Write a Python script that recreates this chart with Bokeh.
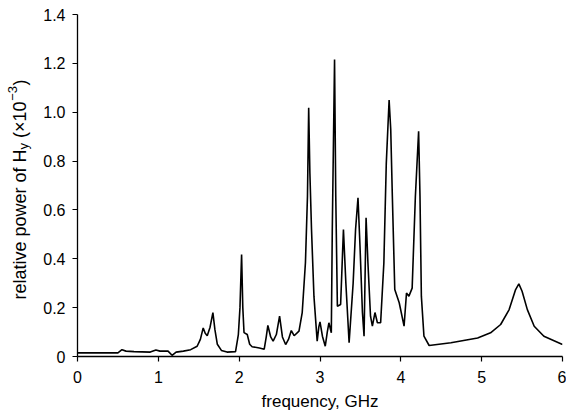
from bokeh.plotting import figure
from bokeh.models import Range1d, FixedTicker
from bokeh.layouts import row
from bokeh.core.properties import value
from bokeh.embed import file_html
from bokeh.resources import INLINE

# ---- data ----
freq = [0.00, 0.50, 0.55, 0.60, 0.70, 0.90, 0.97, 1.02, 1.12, 1.17, 1.22, 1.31, 1.40, 1.48,
        1.52, 1.555, 1.58, 1.605, 1.64, 1.675, 1.70, 1.73, 1.78, 1.85, 1.955, 1.99, 2.01,
        2.03, 2.045, 2.06, 2.10, 2.13, 2.16, 2.25, 2.31, 2.335, 2.355, 2.39, 2.42, 2.46,
        2.50, 2.535, 2.575, 2.61, 2.645, 2.68, 2.74, 2.78, 2.82, 2.845, 2.86, 2.875, 2.895,
        2.925, 2.965, 2.985, 3.00, 3.03, 3.065, 3.09, 3.11, 3.14, 3.152, 3.18, 3.195, 3.215,
        3.255, 3.29, 3.32, 3.36, 3.41, 3.44, 3.47, 3.495, 3.525, 3.545, 3.57, 3.593, 3.625,
        3.648, 3.68, 3.71, 3.75, 3.79, 3.82, 3.855, 3.875, 3.895, 3.925, 3.98, 4.04, 4.07,
        4.10, 4.14, 4.18, 4.22, 4.237, 4.254, 4.286, 4.35, 4.62, 4.95, 5.11, 5.235, 5.34,
        5.42, 5.46, 5.50, 5.565, 5.65, 5.77, 6.00]
power = [0.015, 0.015, 0.028, 0.022, 0.020, 0.018, 0.027, 0.022, 0.022, 0.005, 0.018, 0.022,
         0.028, 0.042, 0.070, 0.117, 0.095, 0.085, 0.120, 0.180, 0.110, 0.050, 0.025, 0.018,
         0.020, 0.090, 0.200, 0.417, 0.200, 0.098, 0.090, 0.050, 0.040, 0.035, 0.030, 0.080,
         0.127, 0.080, 0.063, 0.090, 0.165, 0.080, 0.049, 0.070, 0.106, 0.085, 0.104, 0.180,
         0.385, 0.656, 1.018, 0.750, 0.520, 0.247, 0.063, 0.120, 0.142, 0.083, 0.042, 0.100,
         0.138, 0.097, 0.520, 1.216, 0.656, 0.206, 0.213, 0.520, 0.300, 0.056, 0.300, 0.520,
         0.650, 0.450, 0.180, 0.083, 0.568, 0.383, 0.165, 0.124, 0.180, 0.138, 0.138, 0.383,
         0.790, 1.050, 0.930, 0.656, 0.274, 0.220, 0.124, 0.260, 0.247, 0.280, 0.656, 0.922,
         0.656, 0.247, 0.083, 0.045, 0.056, 0.076, 0.097, 0.131, 0.192, 0.274, 0.297, 0.267,
         0.192, 0.124, 0.083, 0.049]

x_ticks = [0, 1, 2, 3, 4, 5, 6]
x_tick_labels = ["0", "1", "2", "3", "4", "5", "6"]
y_ticks = [0, 0.2, 0.4, 0.6, 0.8, 1.0, 1.2, 1.4]
y_tick_labels = ["0", "0.2", "0.4", "0.6", "0.8", "1.0", "1.2", "1.4"]
x_label = "frequency, GHz"
y_label_parts = ["relative power of H", "y", "(\u00d710", "\u22123", ")"]

FONT = "Liberation Sans"
H = 412
LW = 40                      # width of the strip holding the y-axis title
FW, FH = 485, 342            # plot frame size
BL, BR, BT, BB = 77 - LW, 4, 14, 56

# ---- main chart ----
p = figure(title=None, frame_width=FW, frame_height=FH, output_backend="svg",
           toolbar_location=None, x_range=Range1d(0, 6), y_range=Range1d(0, 1.4),
           min_border_left=BL, min_border_right=BR, min_border_top=BT, min_border_bottom=BB)
p.outline_line_color = None
p.xgrid.visible = False
p.ygrid.visible = False
p.background_fill_color = "white"
p.border_fill_color = "white"

p.line(freq, power, line_color="black", line_width=1.6)

for ax in (p.xaxis[0], p.yaxis[0]):
    ax.axis_line_color = "black"
    ax.axis_line_width = 1.3
    ax.major_tick_line_color = "black"
    ax.major_tick_line_width = 1.2
    ax.major_tick_in = 0
    ax.major_tick_out = 5
    ax.minor_tick_line_color = None
    ax.major_label_text_font = FONT
    ax.major_label_text_font_size = "16px"
    ax.major_label_text_color = "black"
    ax.major_label_standoff = 7

p.xaxis.major_label_standoff = 9
p.xaxis.ticker = FixedTicker(ticks=x_ticks)
p.xaxis.major_label_overrides = {t: s for t, s in zip(x_ticks, x_tick_labels)}
p.yaxis.ticker = FixedTicker(ticks=y_ticks)
p.yaxis.major_label_overrides = {t: s for t, s in zip(y_ticks, y_tick_labels)}

p.xaxis.axis_label = x_label
p.xaxis.axis_label_text_font = FONT
p.xaxis.axis_label_text_font_size = "17px"
p.xaxis.axis_label_text_font_style = "normal"
p.xaxis.axis_label_text_color = "black"
p.xaxis.axis_label_standoff = 6

# ---- strip with rotated y-axis title (sub/superscript built from pieces) ----
t = figure(title=None, frame_width=LW, frame_height=H, output_backend="svg",
           toolbar_location=None, x_axis_location=None, y_axis_location=None,
           x_range=Range1d(0, LW), y_range=Range1d(0, H),
           min_border_left=0, min_border_right=0, min_border_top=0, min_border_bottom=0)
t.grid.visible = False
t.outline_line_color = None
t.background_fill_color = "white"
t.border_fill_color = "white"

adv = {"r": 333, "e": 556, "l": 222, "a": 556, "t": 278, "i": 222, "v": 500, " ": 278,
       "p": 556, "o": 556, "w": 722, "f": 278, "H": 722, "y": 500, "(": 333, "\u00d7": 584,
       "1": 556, "0": 556, "\u2212": 584, "3": 556, ")": 333}
FS, SS = 18, 13
sizes = [FS, SS, FS, SS, FS]
shifts = [0.0, 4.0, 0.0, -7.5, 0.0]          # + = lowered baseline (px)
gaps = [0.0, 0.0, adv[" "] * FS / 1000.0, 0.5, 0.5]

def width(s, size):
    return sum(adv[c] for c in s) * size / 1000.0

total = sum(width(s, sz) + g for s, sz, g in zip(y_label_parts, sizes, gaps))
base_x = 19.0            # x of the title baseline in the strip
center_y = 175.0         # y (from top) of the title centre in the strip
cur = center_y + total / 2.0
for s, sz, sh, g in zip(y_label_parts, sizes, shifts, gaps):
    cur -= g
    t.text(x=[base_x + sh], y=[H - cur], text=[s], angle=1.5707963,
           text_align="left", text_baseline="alphabetic",
           text_font=value(FONT), text_font_size=f"{sz}px", text_color="black")
    cur -= width(s, sz)

layout = row(t, p, spacing=0)
open("out.html", "w").write(file_html(layout, INLINE))
